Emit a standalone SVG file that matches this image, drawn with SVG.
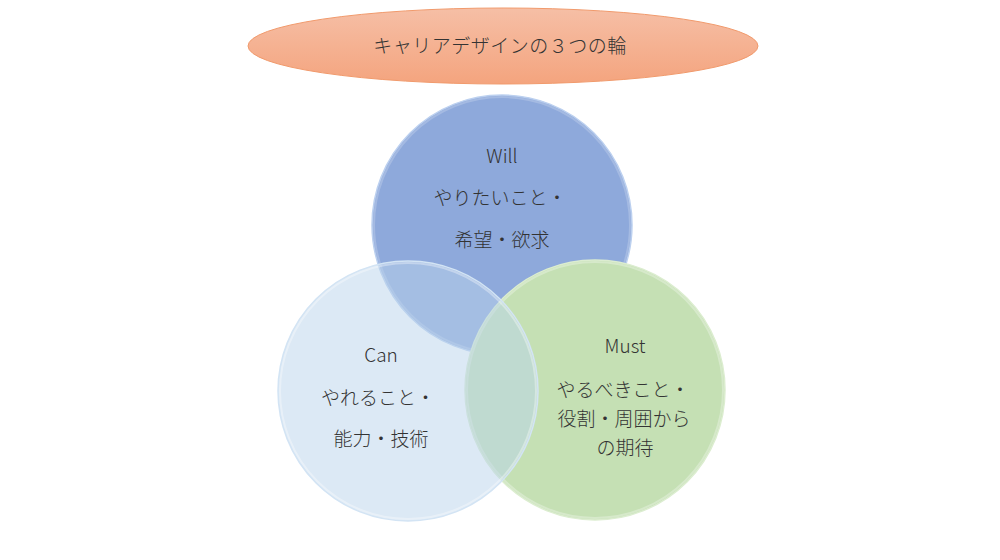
<svg xmlns="http://www.w3.org/2000/svg" width="1000" height="560" viewBox="0 0 1000 560">
  <style>
    .t { font-family: "Noto Sans CJK JP", "Noto Sans", sans-serif; font-size: 19px; font-weight: 300; fill: #333333; text-anchor: middle; }
    .lat { font-size: 19px; }
    .rim { fill: none; stroke: #ffffff; stroke-width: 2; }
  </style>
  <defs>
    <linearGradient id="gTitle" x1="0" y1="0" x2="0" y2="1">
      <stop offset="0" stop-color="#F6BFA6"/>
      <stop offset="1" stop-color="#F4A47E"/>
    </linearGradient>
  </defs>
  <rect width="1000" height="560" fill="#ffffff"/>

  <g id="title">
    <ellipse cx="503" cy="46" rx="255" ry="38" fill="url(#gTitle)" stroke="#F19A6C" stroke-width="1"/>
    <text class="t" x="500" y="53" font-size="18" letter-spacing="0.5">キャリアデザインの３つの輪</text>
  </g>

  <g id="will">
    <circle cx="502" cy="225" r="130" fill="#8EA9DB" stroke="#BCD0EF" stroke-width="1.5"/>
    <circle cx="502" cy="225" r="128" class="rim" stroke-opacity="0.2"/>
  </g>

  <g id="must">
    <circle cx="595" cy="390" r="130" fill="#C5E0B4" stroke="#DCEDD0" stroke-width="1.5"/>
    <circle cx="595" cy="390" r="128" class="rim" stroke-opacity="0.3"/>
  </g>

  <g id="can">
    <circle cx="408" cy="391" r="130" fill="#BAD4EB" fill-opacity="0.5" stroke="#D3E4F4" stroke-width="1.5"/>
    <circle cx="408" cy="391" r="128" class="rim" stroke-opacity="0.35"/>
  </g>

  <g id="labels">
    <text class="t lat" x="502" y="163">Will</text>
    <text class="t" x="500" y="205">やりたいこと・</text>
    <text class="t" x="502" y="247">希望・欲求</text>

    <text class="t lat" x="381" y="362">Can</text>
    <text class="t" x="378" y="405">やれること・</text>
    <text class="t" x="381" y="446">能力・技術</text>

    <text class="t lat" x="625" y="353">Must</text>
    <text class="t" x="623" y="397">やるべきこと・</text>
    <text class="t" x="624" y="426">役割・周囲から</text>
    <text class="t" x="625" y="455">の期待</text>
  </g>
  <g id="connectors"/>
</svg>
